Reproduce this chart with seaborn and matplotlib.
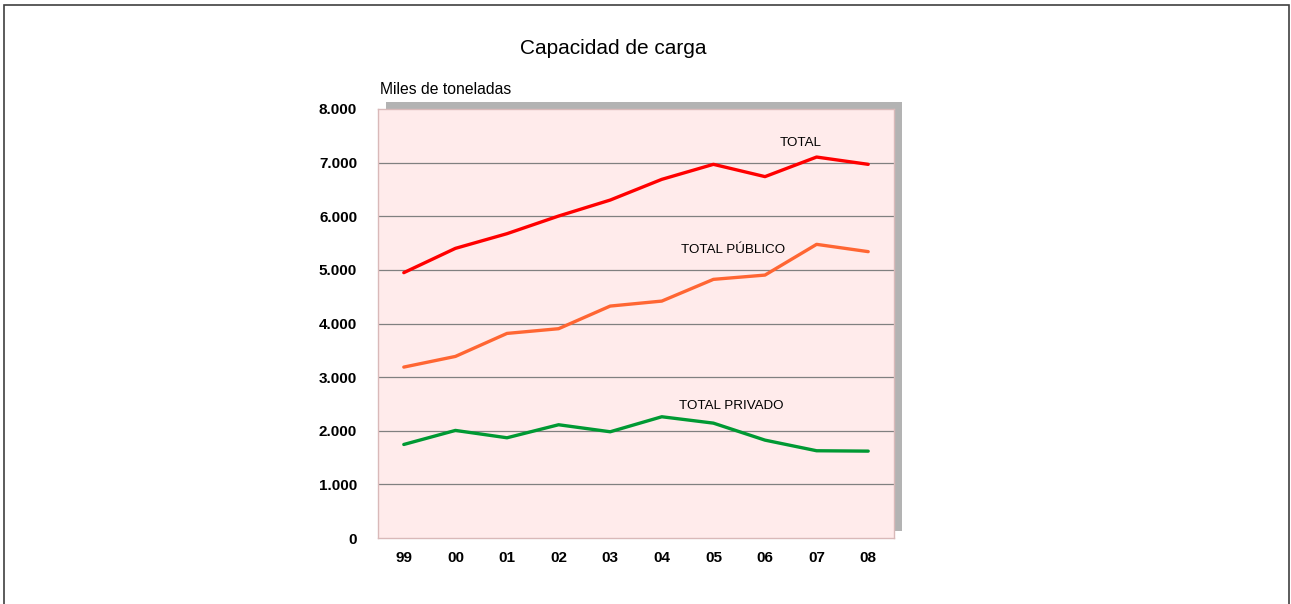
import pandas as pd
import matplotlib.pyplot as plt
import seaborn as sns
from matplotlib.patches import Rectangle

# Capacidad de carga (miles de toneladas)
years = ["99", "00", "01", "02", "03", "04", "05", "06", "07", "08"]
total = [4948, 5401, 5675, 6004, 6302, 6688, 6968, 6739, 7104, 6968]
total_publico = [3187, 3386, 3815, 3903, 4325, 4418, 4823, 4903, 5476, 5340]
total_privado = [1744, 2006, 1869, 2112, 1981, 2261, 2142, 1825, 1627, 1620]
series_names = ["TOTAL", "TOTAL PÚBLICO", "TOTAL PRIVADO"]
series_colors = ["#ff0000", "#ff6633", "#009933"]
ytick_values = [0, 1000, 2000, 3000, 4000, 5000, 6000, 7000, 8000]
ytick_labels = ["0", "1.000", "2.000", "3.000", "4.000", "5.000", "6.000", "7.000", "8.000"]

rows = []
for name, vals in zip(series_names, [total, total_publico, total_privado]):
    for i, (yr, v) in enumerate(zip(years, vals)):
        rows.append({"pos": i, "year": yr, "serie": name, "valor": v})
df = pd.DataFrame(rows)

sns.set_style("white")
plt.rcParams["font.family"] = ["Liberation Sans", "DejaVu Sans"]
plt.rcParams["text.color"] = "black"
plt.rcParams["xtick.color"] = "black"
plt.rcParams["ytick.color"] = "black"

narrow = ["Liberation Sans Narrow", "Liberation Sans", "DejaVu Sans"]

W, H = 1291, 604
fig = plt.figure(figsize=(W / 100, H / 100), dpi=100)

# axes placement (pixels from the reference)
left, right, top, bottom = 378, 894, 109, 538
ax = fig.add_axes([left / W, 1 - bottom / H, (right - left) / W, (bottom - top) / H])
ax.set_zorder(2)

# gray drop shadow behind plot area
shadow = Rectangle(((left + 8) / W, 1 - (bottom - 7) / H), (right - left) / W, (bottom - top) / H,
                   transform=fig.transFigure, facecolor="#b3b3b3", edgecolor="none", zorder=0)
fig.patches.append(shadow)

# outer frame
frame = Rectangle((4 / W, -0.05), (1289 - 4) / W, 1.05 - 5 / H, transform=fig.transFigure,
                  facecolor="none", edgecolor="#404040", linewidth=1.2, zorder=0)
fig.patches.append(frame)

ax.set_facecolor("#ffebeb")
sns.lineplot(data=df, x="pos", y="valor", hue="serie", palette=dict(zip(series_names, series_colors)),
             linewidth=2.4, legend=False, ax=ax, zorder=3)

ax.set_xlim(-0.5, len(years) - 0.5)
ax.set_ylim(0, 8000)
ax.set_xticks(range(len(years)))
ax.set_xticklabels(years, fontweight="bold", fontsize=11, family=narrow)
ax.set_yticks(ytick_values)
ax.set_yticklabels(ytick_labels, fontweight="bold", fontsize=11, family=narrow)
ax.tick_params(axis="y", length=0, pad=15)
ax.tick_params(axis="x", length=0, pad=9.5)
ax.set_xlabel("")
ax.set_ylabel("")
for v in ytick_values[1:-1]:
    ax.axhline(v, color="#808080", linewidth=0.9, zorder=1)
for sp in ax.spines.values():
    sp.set_color("#d9b9b9")
    sp.set_linewidth(1)

# series labels
ax.text(7.69, 7370, "TOTAL", fontsize=9.6, ha="center", va="center")
ax.text(6.38, 5373, "TOTAL PÚBLICO", fontsize=9.6, ha="center", va="center")
ax.text(6.34, 2463, "TOTAL PRIVADO", fontsize=9.6, ha="center", va="center")

fig.text(613 / W, 1 - 48 / H, "Capacidad de carga", fontsize=15, ha="center", va="center")
fig.text(380 / W, 1 - 89 / H, "Miles de toneladas", fontsize=11.3, ha="left", va="center")

fig.savefig("out.png", dpi=100)
